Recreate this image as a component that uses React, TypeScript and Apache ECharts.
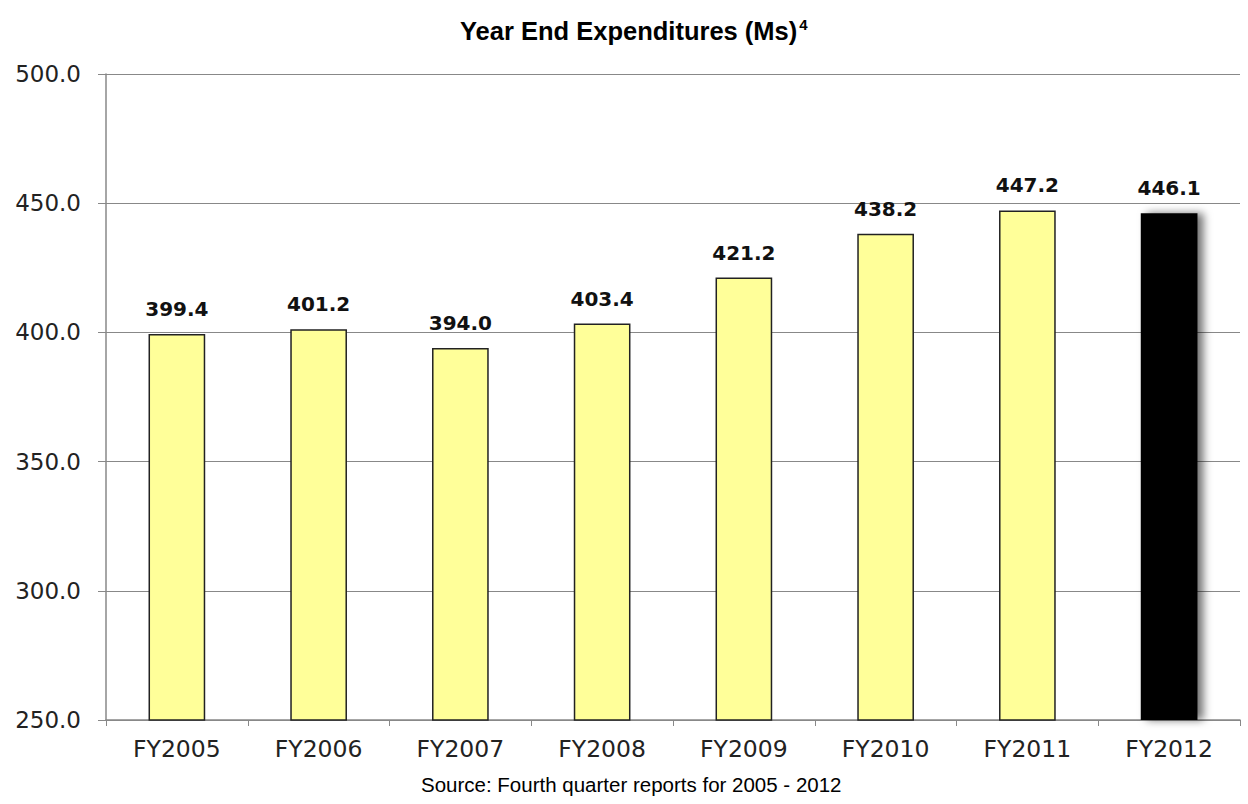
import React, { useEffect, useRef } from "react";
import * as echarts from "echarts";

const categories = ["FY2005", "FY2006", "FY2007", "FY2008", "FY2009", "FY2010", "FY2011", "FY2012"];
const expenditures = [399.4, 401.2, 394.0, 403.4, 421.2, 438.2, 447.2, 446.1];
const highlighted = ["FY2012"];
const yTicks = { min: 250, max: 500, interval: 50 };
const titleText = "Year End Expenditures (Ms)";
const titleSup = "4";
const sourceText = "Source: Fourth quarter reports for 2005 - 2012";

export default function App() {
  const ref = useRef<HTMLDivElement>(null);
  useEffect(() => {
    if (!ref.current) return;
    const chart = echarts.init(ref.current, null, { renderer: "svg" });
    const data = categories.map((c, i) => {
      const hi = highlighted.includes(c);
      return {
        value: expenditures[i],
        itemStyle: hi
          ? { color: "#000000", borderWidth: 0, shadowColor: "rgba(0,0,0,0.55)", shadowBlur: 8, shadowOffsetX: 6, shadowOffsetY: 0 }
          : { color: "#FFFF99", borderColor: "#222222", borderWidth: 1.5 },
      };
    });
    chart.setOption({
      animation: false,
      backgroundColor: "#ffffff",
      title: [
        {
          text: `{a|${titleText}}{b|${titleSup}}`,
          left: 455,
          top: 12,
          textStyle: {
            rich: {
              a: { fontFamily: "Liberation Sans", fontWeight: "bold", fontSize: 25.5, color: "#000" },
              b: { fontFamily: "Liberation Sans", fontWeight: "bold", fontSize: 15, color: "#000", verticalAlign: "top", padding: [0, 0, 12, 2] },
            },
          },
        },
        {
          text: sourceText,
          left: 421,
          top: 774,
          padding: 0,
          textStyle: { fontFamily: "Liberation Sans", fontWeight: "normal", fontSize: 20.5, color: "#000" },
        },
      ],
      grid: { left: 106, right: 8, top: 74, bottom: 84, containLabel: false },
      xAxis: {
        type: "category",
        data: categories,
        axisLine: { lineStyle: { color: "#888", width: 1.5 } },
        axisTick: { show: true, alignWithLabel: false, length: 6, lineStyle: { color: "#888" } },
        axisLabel: { fontFamily: "DejaVu Sans", fontSize: 23.5, color: "#222", margin: 17 },
        splitLine: { show: false },
      },
      yAxis: {
        type: "value",
        min: yTicks.min,
        max: yTicks.max,
        interval: yTicks.interval,
        axisLine: { show: true, lineStyle: { color: "#888", width: 1.5 } },
        axisTick: { show: true, length: 8, lineStyle: { color: "#888" } },
        axisLabel: { fontFamily: "DejaVu Sans", fontSize: 23, color: "#222", margin: 25, formatter: (v: number) => v.toFixed(1) },
        splitLine: { show: true, lineStyle: { color: "#888", width: 1.2 } },
      },
      series: [
        {
          type: "bar",
          data,
          barWidth: "40%",
          label: {
            show: true,
            position: "top",
            distance: 15,
            fontFamily: "DejaVu Sans",
            fontWeight: "bold",
            fontSize: 20,
            color: "#111",
            formatter: (p: any) => Number(p.value).toFixed(1),
          },
        },
      ],
    });
    return () => chart.dispose();
  }, []);
  return <div ref={ref} style={{ width: 1248, height: 804, position: "absolute", left: 0, top: 0 }} />;
}
